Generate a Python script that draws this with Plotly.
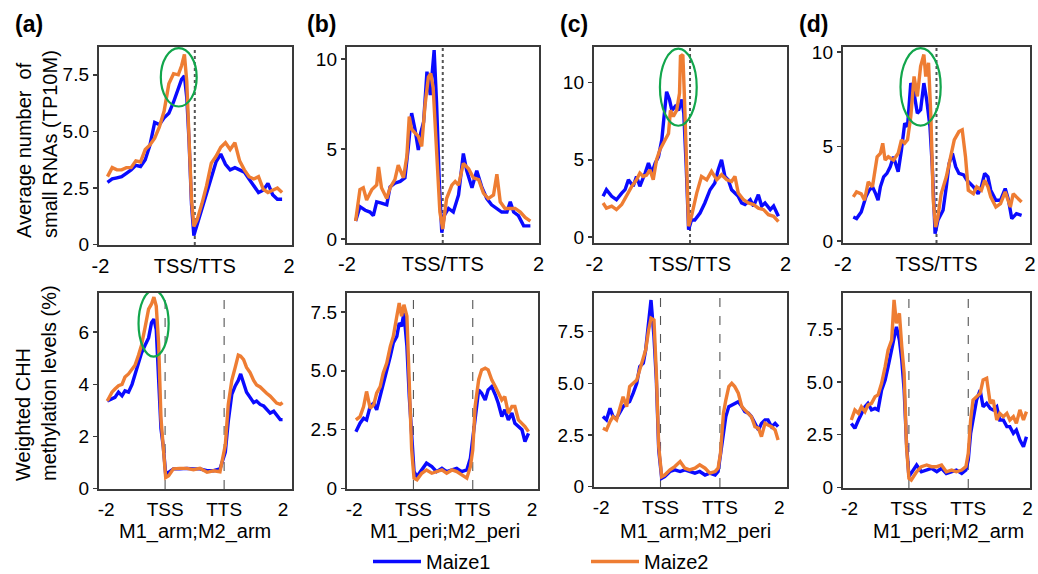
import plotly.graph_objects as go

W, H = 1038, 574
FONT = "Liberation Sans, Arial, sans-serif"
BLUE = "#0a0aff"
ORANGE = "#ee7d33"
GREEN = "#12a64c"
FRAME = "#3a3a3a"

# ---------------- data: small RNAs (top row, x = distance, TSS/TTS at 0) ----------------
a_top_x = [-1.85, -1.75, -1.65, -1.55, -1.45, -1.35, -1.25, -1.15, -1.05, -0.95, -0.85, -0.75, -0.65,
           -0.55, -0.45, -0.35, -0.28, -0.22, -0.17, -0.12, -0.07, -0.02, 0.05, 0.15, 0.25, 0.35, 0.45,
           0.55, 0.65, 0.75, 0.85, 0.95, 1.05, 1.15, 1.25, 1.35, 1.45, 1.55, 1.65, 1.75, 1.85]
a_top_m1 = [2.75, 2.9, 2.95, 3.0, 3.15, 3.3, 3.5, 3.45, 3.75, 4.4, 5.4, 5.3, 5.6, 5.8, 6.3, 6.85, 7.3,
            7.45, 6.5, 4.5, 1.8, 0.4, 0.9, 1.5, 2.2, 3.0, 3.65, 4.0, 3.55, 3.3, 3.4, 3.3, 3.2, 2.9, 2.6,
            2.3, 2.4, 2.7, 2.2, 2.0, 2.0]
a_top_m2 = [3.0, 3.4, 3.3, 3.3, 3.4, 3.4, 3.7, 3.65, 4.2, 4.4, 4.7, 5.2, 5.9, 7.1, 7.55, 7.5, 7.9, 8.4,
            7.2, 4.6, 2.0, 0.8, 1.1, 1.8, 2.6, 3.6, 3.9, 4.3, 4.5, 4.2, 4.5, 3.7, 3.3, 3.0, 2.9, 3.0,
            2.45, 2.3, 2.4, 2.5, 2.3]

b_top_x1 = [-1.82, -1.73, -1.62, -1.52, -1.45, -1.38, -1.28, -1.17, -1.10, -1.00, -0.89, -0.79, -0.72,
            -0.65, -0.58, -0.51, -0.46, -0.40, -0.33, -0.26, -0.18, -0.13, -0.07, -0.02, 0.03, 0.12,
            0.22, 0.33, 0.43, 0.50, 0.61, 0.71, 0.82, 0.92, 1.02, 1.13, 1.23, 1.34, 1.41, 1.48, 1.58,
            1.69, 1.83]
b_top_m1 = [1.0, 1.8, 1.6, 1.5, 1.3, 2.07, 2.0, 1.9, 2.9, 3.1, 3.2, 3.4, 5.1, 7.0, 6.1, 4.95, 5.9, 6.5,
            9.3, 8.0, 10.5, 7.6, 3.0, 0.35, 1.3, 1.7, 1.5, 2.45, 4.75, 3.8, 2.85, 3.8, 2.85, 2.25, 1.9,
            1.7, 1.5, 1.5, 2.07, 1.5, 1.3, 0.73, 0.73]
b_top_x2 = [-1.82, -1.73, -1.66, -1.59, -1.48, -1.38, -1.34, -1.28, -1.17, -1.10, -1.00, -0.93, -0.82,
            -0.75, -0.70, -0.65, -0.58, -0.51, -0.44, -0.37, -0.30, -0.25, -0.20, -0.13, -0.06, 0.00,
            0.08, 0.19, 0.26, 0.33, 0.43, 0.54, 0.64, 0.75, 0.85, 0.95, 1.06, 1.13, 1.20, 1.30, 1.41,
            1.51, 1.62, 1.72, 1.83]
b_top_m2 = [1.0, 2.75, 2.85, 2.17, 2.75, 3.0, 4.0, 2.85, 2.25, 2.85, 3.3, 4.1, 3.4, 4.6, 6.8, 6.1, 5.9,
            5.7, 5.15, 7.45, 9.0, 9.2, 8.4, 5.1, 1.5, 0.55, 2.25, 3.0, 3.2, 3.0, 4.2, 3.9, 3.4, 3.3, 2.55,
            2.25, 2.45, 3.6, 2.07, 1.7, 1.7, 1.7, 1.5, 1.2, 1.0]

c_top_x1 = [-1.82, -1.75, -1.64, -1.54, -1.43, -1.36, -1.29, -1.19, -1.12, -1.05, -0.94, -0.87, -0.80,
            -0.73, -0.66, -0.59, -0.55, -0.49, -0.43, -0.38, -0.31, -0.24, -0.17, -0.13, -0.08, -0.03,
            0.03, 0.10, 0.21, 0.31, 0.42, 0.52, 0.59, 0.66, 0.73, 0.80, 0.87, 0.94, 1.01, 1.08, 1.15,
            1.26, 1.33, 1.43, 1.50, 1.57, 1.68, 1.75, 1.85]
c_top_m1 = [2.63, 3.06, 2.63, 2.41, 2.84, 3.06, 3.7, 3.28, 3.92, 3.28, 4.14, 4.78, 4.14, 4.78, 5.2, 6.3,
            7.6, 9.4, 8.9, 8.2, 8.45, 8.2, 8.9, 8.0, 4.6, 0.47, 1.1, 1.1, 1.55, 2.2, 3.06, 3.5, 4.35,
            5.0, 3.92, 3.7, 3.06, 2.84, 2.63, 2.2, 2.1, 2.41, 2.0, 2.74, 2.0, 2.2, 1.77, 2.0, 1.34]
c_top_x2 = [-1.82, -1.75, -1.64, -1.54, -1.43, -1.33, -1.22, -1.12, -1.05, -0.98, -0.91, -0.84, -0.77,
            -0.70, -0.63, -0.52, -0.45, -0.41, -0.35, -0.28, -0.22, -0.20, -0.15, -0.12, -0.08, -0.03,
            0.03, 0.14, 0.24, 0.35, 0.45, 0.56, 0.66, 0.77, 0.87, 0.94, 1.01, 1.12, 1.22, 1.33, 1.43,
            1.54, 1.64, 1.75, 1.85]
c_top_m2 = [2.2, 1.87, 2.0, 1.77, 2.1, 2.63, 3.28, 3.7, 4.14, 3.92, 4.0, 4.35, 3.7, 5.0, 5.65, 6.3, 6.7,
            8.2, 7.8, 8.2, 9.3, 11.7, 11.8, 9.3, 5.43, 0.69, 1.34, 2.84, 3.92, 3.7, 4.25, 3.7, 4.03, 3.7,
            3.6, 3.92, 2.84, 2.41, 2.2, 2.1, 1.87, 1.77, 1.44, 1.34, 1.0]

d_top_x1 = [-1.78, -1.71, -1.61, -1.51, -1.44, -1.37, -1.30, -1.25, -1.20, -1.13, -1.06, -0.99, -0.92,
            -0.86, -0.82, -0.75, -0.68, -0.62, -0.55, -0.48, -0.41, -0.34, -0.27, -0.21, -0.14, -0.09,
            -0.03, 0.03, 0.14, 0.21, 0.27, 0.34, 0.41, 0.48, 0.58, 0.65, 0.72, 0.79, 0.89, 0.96, 1.03,
            1.10, 1.16, 1.27, 1.37, 1.47, 1.54, 1.61, 1.71, 1.82]
d_top_m1 = [1.27, 1.19, 1.54, 2.34, 2.69, 2.87, 2.5, 2.16, 2.87, 3.4, 3.58, 3.93, 4.46, 3.93, 3.66, 4.81,
            6.23, 6.05, 8.35, 7.82, 6.76, 6.94, 8.35, 7.47, 6.05, 3.93, 0.39, 1.1, 1.63, 2.87, 4.1, 4.64,
            3.93, 3.58, 3.5, 3.22, 3.04, 2.87, 2.5, 2.87, 3.58, 3.4, 2.69, 2.16, 2.16, 2.78, 2.16, 1.19,
            1.45, 1.36]
d_top_x2 = [-1.78, -1.71, -1.61, -1.54, -1.46, -1.37, -1.27, -1.20, -1.15, -1.10, -1.03, -0.92, -0.82,
            -0.75, -0.68, -0.62, -0.55, -0.48, -0.41, -0.34, -0.27, -0.23, -0.17, -0.12, -0.07, -0.02,
            0.03, 0.10, 0.21, 0.31, 0.38, 0.48, 0.55, 0.62, 0.68, 0.79, 0.86, 0.96, 1.03, 1.10, 1.16,
            1.27, 1.37, 1.47, 1.58, 1.64, 1.71, 1.82]
d_top_m2 = [2.34, 2.6, 2.5, 2.16, 3.13, 2.87, 4.46, 4.64, 5.17, 4.28, 4.46, 4.28, 4.64, 5.35, 5.17, 5.35,
            6.58, 8.7, 7.65, 9.24, 9.86, 8.7, 9.42, 6.58, 2.16, 0.74, 1.27, 2.5, 3.4, 4.46, 5.35, 5.79,
            5.88, 4.46, 2.69, 2.5, 2.87, 2.69, 3.22, 2.87, 2.34, 1.8, 1.98, 2.6, 1.8, 2.5, 2.34, 2.07]

# ---------------- data: CHH methylation (bottom row, 0=-2kb, 1=TSS, 2=TTS, 3=+2kb) ----------------
a_bot_x = [0.02, 0.10, 0.15, 0.21, 0.27, 0.32, 0.38, 0.44, 0.49, 0.55, 0.60, 0.66, 0.72, 0.77, 0.81,
           0.85, 0.89, 0.93, 0.97, 1.01, 1.06, 1.14, 1.25, 1.37, 1.48, 1.59, 1.71, 1.82, 1.93, 1.98,
           2.02, 2.07, 2.13, 2.19, 2.24, 2.28, 2.33, 2.38, 2.44, 2.50, 2.55, 2.61, 2.67, 2.72, 2.78,
           2.84, 2.89, 2.95, 2.99]
a_bot_m1 = [3.36, 3.43, 3.5, 3.7, 3.56, 3.75, 3.7, 4.0, 4.4, 4.8, 5.2, 5.5, 5.78, 6.36, 6.5, 6.1, 4.28,
            2.3, 1.6, 0.56, 0.63, 0.76, 0.76, 0.78, 0.76, 0.76, 0.69, 0.69, 0.76, 1.08, 1.4, 2.58, 3.62,
            3.95, 4.15, 4.4, 4.0, 3.7, 3.5, 3.3, 3.36, 3.23, 3.17, 3.04, 2.9, 2.97, 2.84, 2.65, 2.65]
a_bot_m2 = [3.36, 3.7, 3.82, 3.95, 4.0, 4.28, 4.4, 4.6, 4.73, 5.12, 5.5, 6.17, 6.88, 7.08, 7.34, 7.0,
            5.58, 2.7, 1.67, 0.43, 0.5, 0.76, 0.78, 0.78, 0.73, 0.78, 0.63, 0.69, 0.65, 1.2, 1.67, 3.23,
            4.15, 4.67, 5.12, 5.08, 4.95, 4.65, 4.45, 4.15, 3.98, 3.9, 3.75, 3.66, 3.55, 3.38, 3.28,
            3.23, 3.3]

b_bot_x = [0.03, 0.10, 0.16, 0.21, 0.27, 0.33, 0.38, 0.44, 0.49, 0.55, 0.61, 0.66, 0.72, 0.76, 0.80,
           0.84, 0.89, 0.93, 0.97, 1.01, 1.06, 1.14, 1.22, 1.31, 1.39, 1.48, 1.56, 1.65, 1.73, 1.81,
           1.90, 1.96, 2.00, 2.04, 2.10, 2.15, 2.21, 2.26, 2.32, 2.38, 2.43, 2.49, 2.54, 2.60, 2.66,
           2.71, 2.77, 2.83, 2.88, 2.94]
b_bot_m1 = [2.41, 2.77, 2.98, 2.91, 3.48, 3.62, 3.34, 3.9, 4.47, 5.04, 5.61, 6.18, 6.46, 7.03, 6.89,
            7.46, 6.04, 3.9, 2.06, 0.71, 0.5, 0.78, 1.07, 0.92, 0.71, 0.85, 0.71, 0.78, 0.85, 0.71, 0.78,
            1.28, 2.06, 2.91, 4.19, 4.05, 3.76, 4.19, 4.33, 3.98, 3.62, 3.05, 3.34, 2.91, 3.2, 2.77,
            2.63, 2.49, 1.99, 2.34]
b_bot_m2 = [2.91, 3.05, 3.48, 4.12, 3.41, 3.55, 4.05, 4.33, 4.9, 5.33, 6.04, 6.46, 7.32, 7.88, 7.32,
            7.81, 7.32, 4.9, 1.63, 0.43, 0.36, 0.64, 0.78, 0.64, 0.71, 0.78, 0.64, 0.78, 0.71, 0.57, 0.43,
            0.92, 1.63, 3.48, 4.62, 5.04, 5.11, 5.04, 4.62, 4.33, 4.05, 3.76, 3.9, 3.2, 3.48, 3.48, 2.91,
            2.77, 2.63, 2.41]

c_bot_x = [0.03, 0.09, 0.15, 0.20, 0.26, 0.31, 0.37, 0.43, 0.48, 0.54, 0.60, 0.65, 0.71, 0.75, 0.80,
           0.84, 0.89, 0.93, 0.97, 1.02, 1.07, 1.16, 1.24, 1.33, 1.41, 1.49, 1.58, 1.66, 1.75, 1.83,
           1.92, 1.97, 2.01, 2.06, 2.10, 2.15, 2.20, 2.25, 2.31, 2.37, 2.42, 2.48, 2.53, 2.59, 2.65,
           2.70, 2.76, 2.81, 2.87, 2.93, 2.98]
c_bot_m1 = [3.39, 3.23, 3.79, 3.39, 3.31, 3.55, 3.87, 4.03, 4.11, 4.52, 5.0, 5.81, 5.97, 6.61, 7.9, 9.03,
            7.26, 5.16, 1.77, 0.4, 0.48, 0.73, 0.81, 0.73, 0.81, 0.73, 0.65, 0.73, 0.56, 0.65, 0.56, 0.73,
            1.53, 2.74, 3.39, 3.87, 3.95, 4.03, 4.11, 3.87, 3.63, 3.55, 3.39, 3.06, 2.74, 3.06, 3.23,
            3.23, 2.9, 3.06, 2.9]
c_bot_m2 = [2.82, 2.74, 3.15, 3.39, 3.23, 3.71, 4.35, 3.87, 4.84, 5.0, 5.16, 5.65, 6.29, 6.61, 7.58,
            8.15, 8.06, 5.48, 1.94, 0.48, 0.56, 0.81, 0.97, 1.21, 0.89, 0.81, 0.89, 1.05, 0.89, 0.65,
            0.73, 0.89, 1.61, 3.55, 4.19, 4.84, 5.0, 4.84, 4.52, 3.87, 3.71, 3.55, 3.39, 2.9, 2.82, 2.42,
            3.06, 2.98, 2.9, 2.74, 2.26]

d_bot_x = [0.03, 0.09, 0.15, 0.20, 0.26, 0.31, 0.37, 0.43, 0.48, 0.54, 0.60, 0.65, 0.71, 0.75, 0.79,
           0.84, 0.88, 0.92, 0.96, 1.00, 1.04, 1.13, 1.21, 1.30, 1.38, 1.47, 1.55, 1.63, 1.72, 1.80,
           1.89, 1.96, 2.00, 2.04, 2.08, 2.14, 2.20, 2.25, 2.31, 2.37, 2.42, 2.48, 2.53, 2.59, 2.65,
           2.70, 2.76, 2.81, 2.87, 2.93, 2.98]
d_bot_m1 = [3.03, 2.8, 3.19, 3.51, 3.82, 3.98, 3.67, 3.74, 3.67, 4.61, 5.09, 5.72, 6.51, 7.14, 7.61,
            6.98, 6.03, 4.61, 2.09, 0.51, 0.66, 1.06, 0.74, 0.82, 0.9, 0.74, 0.9, 0.66, 0.74, 0.82, 0.66,
            0.82, 1.3, 2.56, 3.19, 4.14, 4.61, 3.82, 3.98, 3.74, 3.67, 3.82, 3.19, 3.19, 2.88, 2.88,
            2.56, 2.72, 2.24, 1.93, 2.4]
d_bot_m2 = [3.19, 3.67, 3.51, 3.82, 3.59, 3.9, 3.98, 4.3, 4.38, 4.93, 5.72, 6.51, 6.98, 8.88, 7.77, 8.25,
            6.67, 5.4, 1.93, 0.43, 0.35, 0.74, 0.98, 1.06, 0.98, 0.98, 1.06, 0.74, 0.82, 0.74, 0.82,
            0.98, 1.61, 3.19, 4.14, 4.3, 4.45, 5.09, 5.17, 3.98, 4.14, 3.19, 3.51, 3.35, 3.51, 3.19,
            3.35, 3.03, 3.67, 3.19, 3.59]

series_names = ["Maize1", "Maize2"]
panel_letters = ["(a)", "(b)", "(c)", "(d)"]
bottom_titles = ["M1_arm;M2_arm", "M1_peri;M2_peri", "M1_arm;M2_peri", "M1_peri;M2_arm"]
top_tick_vals = [-2, 0, 2]
top_tick_text = ["-2", "TSS/TTS", "2"]
bot_tick_vals = [0, 1, 2, 3]
bot_tick_text = ["-2", "TSS", "TTS", "2"]

panels = [
    # (x1, y1, x2, y2, box px (l, r, t, b), xrange, yrange, yticks, yticktext)
    (a_top_x, a_top_m1, a_top_x, a_top_m2, (99, 292, 47, 245), [-2.03, 2.06], [-0.02, 8.73],
     [0, 2.5, 5, 7.5], ["0", "2.5", "5.0", "7.5"]),
    (b_top_x1, b_top_m1, b_top_x2, b_top_m2, (347, 539, 47, 243), [-2.0, 2.01], [-0.22, 10.67],
     [0, 5, 10], ["0", "5", "10"]),
    (c_top_x1, c_top_m1, c_top_x2, c_top_m2, (594, 787, 47, 243), [-2.01, 2.03], [-0.39, 12.3],
     [0, 5, 10], ["0", "5", "10"]),
    (d_top_x1, d_top_m1, d_top_x2, d_top_m2, (843, 1030, 47, 243), [-2.0, 2.0], [-0.1, 10.26],
     [0, 5, 10], ["0", "5", "10"]),
    (a_bot_x, a_bot_m1, a_bot_x, a_bot_m2, (99, 292, 293, 489), [-0.12, 3.15], [-0.01, 7.5],
     [0, 2, 4, 6], ["0", "2", "4", "6"]),
    (b_bot_x, b_bot_m1, b_bot_x, b_bot_m2, (347, 538, 293, 489), [-0.12, 3.10], [-0.03, 8.31],
     [0, 2.5, 5, 7.5], ["0", "2.5", "5.0", "7.5"]),
    (c_bot_x, c_bot_m1, c_bot_x, c_bot_m2, (594, 787, 293, 487), [-0.12, 3.13], [-0.02, 9.37],
     [0, 2.5, 5, 7.5], ["0", "2.5", "5.0", "7.5"]),
    (d_bot_x, d_bot_m1, d_bot_x, d_bot_m2, (843, 1030, 293, 488), [-0.11, 3.04], [-0.03, 9.21],
     [0, 2.5, 5, 7.5], ["0", "2.5", "5.0", "7.5"]),
]

# highlighted regions (axis index, x0, x1, y0, y1)
ellipses = [(1, -0.72, 0.04, 6.1, 8.68), (3, -0.63, 0.14, 7.2, 12.2),
            (4, -0.77, 0.09, 6.1, 10.2), (5, 0.55, 1.06, 5.06, 7.6)]

fig = go.Figure()
layout = dict(width=W, height=H, margin=dict(l=0, r=0, t=0, b=0, pad=0, autoexpand=False),
              paper_bgcolor="white", plot_bgcolor="white",
              font=dict(family=FONT, color="black"))
shapes = []
annotations = []

for i, (x1, y1, x2, y2, box, xr, yr, ytv, ytt) in enumerate(panels):
    n = i + 1
    sfx = "" if n == 1 else str(n)
    l, r, t, b = box
    top = i < 4
    fig.add_trace(go.Scatter(x=x1, y=y1, mode="lines", name=series_names[0],
                             line=dict(color=BLUE, width=3.4), xaxis="x" + sfx, yaxis="y" + sfx,
                             showlegend=(n == 1), legendrank=1))
    fig.add_trace(go.Scatter(x=x2, y=y2, mode="lines", name=series_names[1],
                             line=dict(color=ORANGE, width=3.4), xaxis="x" + sfx, yaxis="y" + sfx,
                             showlegend=(n == 1), legendrank=2))
    layout["xaxis" + sfx] = dict(
        domain=[l / W, r / W], range=xr, anchor="y" + sfx,
        tickvals=top_tick_vals if top else bot_tick_vals,
        ticktext=top_tick_text if top else bot_tick_text,
        ticks="", ticklen=0, ticklabelstandoff=2,
        showgrid=False, zeroline=False,
        showline=True, mirror=True, linecolor=FRAME, linewidth=2.2,
        tickfont=dict(family=FONT, size=20 if top else 19, color="black"))
    layout["yaxis" + sfx] = dict(
        domain=[1 - b / H, 1 - t / H], range=yr, anchor="x" + sfx,
        tickvals=ytv, ticktext=ytt, ticks="outside", ticklen=4, tickwidth=1.5, tickcolor=FRAME,
        showgrid=False, zeroline=False,
        showline=True, mirror=True, linecolor=FRAME, linewidth=2.2,
        tickfont=dict(family=FONT, size=19, color="black"))
    # boundary lines
    for xv in ([0] if top else [1, 2]):
        shapes.append(dict(type="line", xref="x" + sfx, yref="y" + sfx + " domain",
                           x0=xv, x1=xv, y0=0, y1=1,
                           line=dict(color="#555555", width=2 if top else 1.1,
                                     dash="dot" if top else "dash"), layer="below"))

for (n, x0, x1, y0, y1) in ellipses:
    sfx = "" if n == 1 else str(n)
    shapes.append(dict(type="circle", xref="x" + sfx, yref="y" + sfx,
                       x0=x0, x1=x1, y0=y0, y1=y1, line=dict(color=GREEN, width=2.2)))

# panel letters
letter_x = [13, 305, 558, 797]
for lx, txt in zip(letter_x, panel_letters):
    annotations.append(dict(text="<b>%s</b>" % txt, x=lx / W, y=1 - 24 / H, xref="paper", yref="paper",
                            xanchor="left", yanchor="middle", showarrow=False,
                            font=dict(family=FONT, size=23, color="black")))

# y-axis titles
annotations.append(dict(text="Average number  of<br>small RNAs (TP10M)", x=37 / W, y=1 - 144 / H,
                        xref="paper", yref="paper", textangle=-90, showarrow=False, align="left",
                        xanchor="center", yanchor="middle",
                        font=dict(family=FONT, size=20, color="black")))
annotations.append(dict(text="Weighted CHH<br>methylation levels (%)", x=36 / W, y=1 - 383 / H,
                        xref="paper", yref="paper", textangle=-90, showarrow=False, align="left",
                        xanchor="center", yanchor="middle",
                        font=dict(family=FONT, size=20, color="black")))

# bottom x titles
title_cx = [195, 445, 695, 948]
for cx, txt in zip(title_cx, bottom_titles):
    annotations.append(dict(text=txt, x=cx / W, y=1 - 531 / H, xref="paper", yref="paper",
                            xanchor="center", yanchor="middle", showarrow=False,
                            font=dict(family=FONT, size=20, color="black")))

layout["shapes"] = shapes
layout["annotations"] = annotations
layout["showlegend"] = True
layout["legend"] = dict(orientation="h", x=368 / W, y=-7 / H, xanchor="left", yanchor="bottom",
                        font=dict(family=FONT, size=20, color="black"), entrywidth=155,
                        itemwidth=48, bgcolor="rgba(0,0,0,0)")
fig.update_layout(**layout)
fig.write_html("out.html", config={"displayModeBar": False, "staticPlot": True},
               post_script="document.body.style.margin='0';document.body.style.overflow='hidden';")
